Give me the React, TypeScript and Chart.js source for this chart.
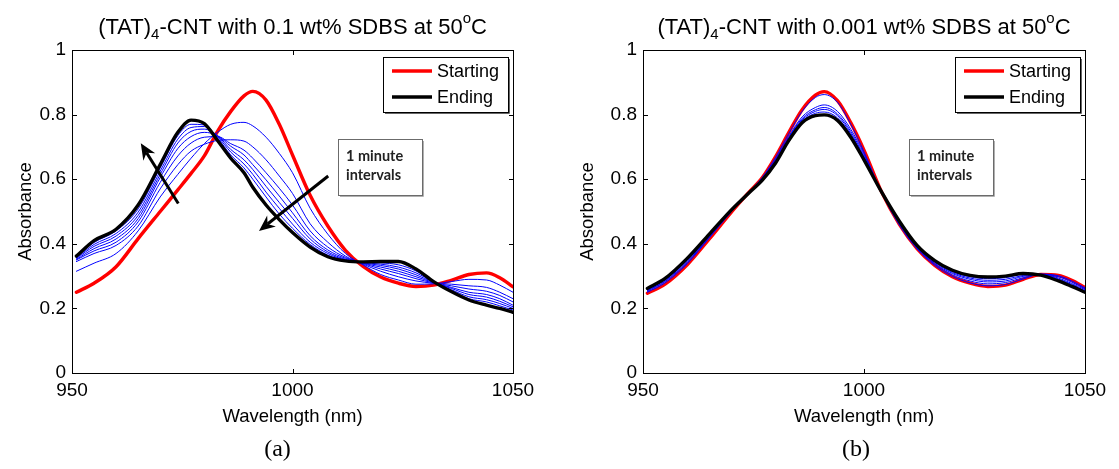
import React, { useEffect, useRef } from 'react';
import { Chart, registerables } from 'chart.js';

Chart.register(...registerables);

// ---------- data ----------
const WAVELENGTHS = [951, 955, 960, 965, 970, 974, 977, 980, 983, 986, 989, 991, 994, 997, 1000, 1004, 1008, 1012, 1016, 1020, 1024, 1028, 1032, 1036, 1040, 1044, 1047, 1050];

const X_TICKS = [950, 1000, 1050];
const X_TICK_LABELS = ['950', '1000', '1050'];
const Y_TICKS = [0, 0.2, 0.4, 0.6, 0.8, 1];
const Y_TICK_LABELS = ['0', '0.2', '0.4', '0.6', '0.8', '1'];

// Panel (a): 0.1 wt% SDBS
const A_START = [0.25, 0.278, 0.329, 0.416, 0.5, 0.567, 0.618, 0.672, 0.748, 0.81, 0.858, 0.872, 0.845, 0.77, 0.675, 0.55, 0.455, 0.38, 0.33, 0.297, 0.278, 0.268, 0.272, 0.287, 0.305, 0.31, 0.295, 0.267];
const A_END = [0.362, 0.41, 0.445, 0.52, 0.645, 0.745, 0.783, 0.772, 0.72, 0.665, 0.62, 0.575, 0.52, 0.475, 0.435, 0.39, 0.36, 0.347, 0.344, 0.345, 0.345, 0.322, 0.283, 0.252, 0.226, 0.21, 0.2, 0.188];
const A_MID1 = [0.315, 0.34, 0.37, 0.44, 0.545, 0.615, 0.665, 0.71, 0.745, 0.77, 0.776, 0.765, 0.73, 0.68, 0.62, 0.51, 0.43, 0.37, 0.335, 0.305, 0.288, 0.275, 0.276, 0.283, 0.29, 0.288, 0.272, 0.25];
const A_MID2 = [0.345, 0.37, 0.395, 0.455, 0.57, 0.645, 0.687, 0.708, 0.72, 0.722, 0.718, 0.7, 0.66, 0.61, 0.556, 0.462, 0.405, 0.362, 0.337, 0.315, 0.298, 0.285, 0.278, 0.275, 0.27, 0.265, 0.25, 0.23];
const A_MID3 = [0.35, 0.378, 0.405, 0.468, 0.59, 0.672, 0.712, 0.73, 0.732, 0.71, 0.69, 0.665, 0.62, 0.572, 0.52, 0.44, 0.39, 0.358, 0.339, 0.322, 0.308, 0.292, 0.279, 0.27, 0.26, 0.253, 0.24, 0.22];
const A_MID4 = [0.352, 0.385, 0.415, 0.478, 0.605, 0.695, 0.732, 0.745, 0.735, 0.702, 0.675, 0.645, 0.598, 0.548, 0.496, 0.425, 0.381, 0.355, 0.34, 0.328, 0.315, 0.298, 0.28, 0.265, 0.25, 0.243, 0.23, 0.21];
const A_MID5 = [0.355, 0.392, 0.424, 0.488, 0.615, 0.712, 0.748, 0.755, 0.735, 0.692, 0.66, 0.63, 0.578, 0.528, 0.479, 0.415, 0.375, 0.352, 0.341, 0.333, 0.322, 0.304, 0.281, 0.262, 0.243, 0.235, 0.222, 0.205];
const A_MID6 = [0.357, 0.398, 0.432, 0.498, 0.625, 0.724, 0.76, 0.763, 0.732, 0.684, 0.647, 0.615, 0.56, 0.51, 0.461, 0.405, 0.37, 0.35, 0.342, 0.337, 0.328, 0.31, 0.282, 0.258, 0.236, 0.227, 0.215, 0.2];
const A_MID7 = [0.36, 0.404, 0.44, 0.508, 0.635, 0.735, 0.77, 0.768, 0.728, 0.675, 0.635, 0.6, 0.545, 0.492, 0.448, 0.398, 0.365, 0.349, 0.343, 0.341, 0.335, 0.316, 0.283, 0.255, 0.23, 0.22, 0.208, 0.195];

// Panel (b): 0.001 wt% SDBS
const B_START = [0.247, 0.275, 0.335, 0.415, 0.498, 0.56, 0.605, 0.67, 0.745, 0.815, 0.86, 0.871, 0.843, 0.775, 0.69, 0.56, 0.46, 0.385, 0.333, 0.298, 0.278, 0.268, 0.272, 0.29, 0.305, 0.302, 0.287, 0.265];
const B_END = [0.262, 0.293, 0.355, 0.43, 0.505, 0.558, 0.597, 0.65, 0.72, 0.775, 0.797, 0.799, 0.782, 0.73, 0.66, 0.56, 0.47, 0.395, 0.348, 0.318, 0.302, 0.297, 0.3, 0.308, 0.303, 0.285, 0.268, 0.25];
const B_MID1 = [0.25, 0.279, 0.338, 0.418, 0.5, 0.56, 0.606, 0.668, 0.742, 0.81, 0.853, 0.862, 0.838, 0.77, 0.685, 0.558, 0.458, 0.384, 0.333, 0.299, 0.279, 0.27, 0.274, 0.291, 0.306, 0.301, 0.285, 0.264];
const B_MID2 = [0.253, 0.283, 0.342, 0.421, 0.5, 0.56, 0.603, 0.662, 0.733, 0.793, 0.822, 0.83, 0.81, 0.755, 0.678, 0.558, 0.462, 0.387, 0.337, 0.304, 0.285, 0.276, 0.28, 0.295, 0.306, 0.298, 0.281, 0.261];
const B_MID3 = [0.255, 0.285, 0.345, 0.423, 0.502, 0.559, 0.601, 0.659, 0.73, 0.788, 0.815, 0.822, 0.802, 0.748, 0.672, 0.559, 0.464, 0.389, 0.34, 0.308, 0.29, 0.282, 0.285, 0.299, 0.305, 0.294, 0.277, 0.258];
const B_MID4 = [0.257, 0.288, 0.348, 0.425, 0.503, 0.559, 0.6, 0.656, 0.727, 0.784, 0.81, 0.816, 0.797, 0.742, 0.668, 0.559, 0.466, 0.391, 0.343, 0.311, 0.294, 0.287, 0.29, 0.302, 0.305, 0.291, 0.274, 0.255];
const B_MID5 = [0.259, 0.29, 0.351, 0.427, 0.504, 0.558, 0.599, 0.653, 0.724, 0.78, 0.804, 0.808, 0.79, 0.737, 0.664, 0.56, 0.468, 0.393, 0.346, 0.314, 0.298, 0.292, 0.295, 0.305, 0.304, 0.288, 0.271, 0.252];

// Arrows in panel (a), in data coordinates: [x1, y1, x2(head), y2(head)]
const A_ARROWS = [
  [974.1, 0.525, 965.6, 0.711],
  [1008.1, 0.61, 992.4, 0.44],
];

const LEGEND_LABELS = ['Starting', 'Ending'];
const NOTE_LINES = ['1 minute', 'intervals'];

// ---------- layout ----------
type Panel = {
  canvasLeft: number;
  canvasWidth: number;
  padLeft: number;
  padRight: number;
  concentration: string;
  start: number[];
  end: number[];
  mids: number[][];
  arrows: number[][];
  label: string;
  labelShift: number;
  ylabelX: number;
};

const PANELS: Panel[] = [
  {
    canvasLeft: 0, canvasWidth: 560, padLeft: 32, padRight: 47,
    concentration: '0.1', start: A_START, end: A_END,
    mids: [A_MID1, A_MID2, A_MID3, A_MID4, A_MID5, A_MID6, A_MID7],
    arrows: A_ARROWS, label: '(a)', labelShift: -15, ylabelX: 26,
  },
  {
    canvasLeft: 560, canvasWidth: 559, padLeft: 43, padRight: 34,
    concentration: '0.001', start: B_START, end: B_END,
    mids: [B_MID1, B_MID2, B_MID3, B_MID4, B_MID5],
    arrows: [], label: '(b)', labelShift: -8, ylabelX: 28,
  },
];

const SANS = '"Liberation Sans", Arial, Helvetica, sans-serif';
const SERIF = '"Liberation Serif", "Times New Roman", serif';

function drawArrow(ctx: CanvasRenderingContext2D, x1: number, y1: number, x2: number, y2: number) {
  const ang = Math.atan2(y2 - y1, x2 - x1);
  const c = Math.cos(ang), s = Math.sin(ang);
  const L = 16, W = 7, notch = 11;
  ctx.strokeStyle = '#000';
  ctx.fillStyle = '#000';
  ctx.lineWidth = 3;
  ctx.lineCap = 'butt';
  ctx.beginPath();
  ctx.moveTo(x1, y1);
  ctx.lineTo(x2 - c * notch, y2 - s * notch);
  ctx.stroke();
  ctx.beginPath();
  ctx.moveTo(x2, y2);
  ctx.lineTo(x2 - c * L - s * W, y2 - s * L + c * W);
  ctx.lineTo(x2 - c * notch, y2 - s * notch);
  ctx.lineTo(x2 - c * L + s * W, y2 - s * L - c * W);
  ctx.closePath();
  ctx.fill();
}

function makeDecor(p: Panel) {
  return {
    id: 'decor',
    afterDraw(chart: any) {
      const ctx: CanvasRenderingContext2D = chart.ctx;
      const ca = chart.chartArea;
      const xs = chart.scales.x;
      const ys = chart.scales.y;
      const L = Math.round(ca.left), R = Math.round(ca.right), T = Math.round(ca.top), B = Math.round(ca.bottom);
      ctx.save();

      // arrows
      p.arrows.forEach((a) => {
        drawArrow(ctx, xs.getPixelForValue(a[0]), ys.getPixelForValue(a[1]), xs.getPixelForValue(a[2]), ys.getPixelForValue(a[3]));
      });

      // axes box
      ctx.strokeStyle = '#000';
      ctx.lineWidth = 1;
      ctx.strokeRect(L + 0.5, T + 0.5, R - L, B - T);
      // inward ticks
      ctx.beginPath();
      X_TICKS.forEach((v) => {
        const px = Math.round(xs.getPixelForValue(v)) + 0.5;
        ctx.moveTo(px, B); ctx.lineTo(px, B - 4);
        ctx.moveTo(px, T + 1); ctx.lineTo(px, T + 5);
      });
      Y_TICKS.forEach((v) => {
        const py = Math.round(ys.getPixelForValue(v)) + 0.5;
        ctx.moveTo(L + 1, py); ctx.lineTo(L + 5, py);
        ctx.moveTo(R, py); ctx.lineTo(R - 4, py);
      });
      ctx.stroke();

      // legend
      const lgW = 125, lgH = 55;
      const lgL = R - 5 - lgW, lgT = T + 7;
      ctx.fillStyle = '#fff';
      ctx.fillRect(lgL, lgT, lgW, lgH);
      ctx.strokeStyle = '#000';
      ctx.lineWidth = 1;
      ctx.strokeRect(lgL + 0.5, lgT + 0.5, lgW, lgH);
      ctx.strokeStyle = '#666';
      ctx.beginPath();
      ctx.moveTo(lgL + lgW + 1.5, lgT + 2); ctx.lineTo(lgL + lgW + 1.5, lgT + lgH + 1.5); ctx.lineTo(lgL + 2, lgT + lgH + 1.5);
      ctx.stroke();
      const lgColors = ['#ff0000', '#000000'];
      LEGEND_LABELS.forEach((txt, i) => {
        const y = lgT + 14 + i * 26;
        ctx.strokeStyle = lgColors[i];
        ctx.lineWidth = 3.5;
        ctx.beginPath();
        ctx.moveTo(lgL + 9, y); ctx.lineTo(lgL + 49, y);
        ctx.stroke();
        ctx.fillStyle = '#000';
        ctx.font = `18px ${SANS}`;
        ctx.textAlign = 'left';
        ctx.textBaseline = 'middle';
        ctx.fillText(txt, lgL + 54, y + 1);
      });

      // note box
      const nbL = L + 266, nbT = T + 89, nbW = 84, nbH = 56;
      ctx.fillStyle = '#fff';
      ctx.fillRect(nbL, nbT, nbW, nbH);
      ctx.strokeStyle = '#6b6b6b';
      ctx.lineWidth = 1;
      ctx.strokeRect(nbL + 0.5, nbT + 0.5, nbW, nbH);
      ctx.strokeStyle = '#b0b0b0';
      ctx.beginPath();
      ctx.moveTo(nbL + nbW + 1.5, nbT + 2); ctx.lineTo(nbL + nbW + 1.5, nbT + nbH + 1.5); ctx.lineTo(nbL + 2, nbT + nbH + 1.5);
      ctx.stroke();
      ctx.fillStyle = '#222';
      ctx.font = `bold 14.5px Lato, "Open Sans", sans-serif`;
      ctx.textAlign = 'left';
      ctx.textBaseline = 'middle';
      NOTE_LINES.forEach((t, i) => ctx.fillText(t, nbL + 8, nbT + 17 + i * 19));

      // title with sub/superscript
      const parts = [
        { t: '(TAT)', k: 'n' },
        { t: '4', k: 'sub' },
        { t: `-CNT with ${p.concentration} wt% SDBS at 50`, k: 'n' },
        { t: 'o', k: 'sup' },
        { t: 'C', k: 'n' },
      ];
      const fontFor = (k: string) => (k === 'n' ? `22px ${SANS}` : `15px ${SANS}`);
      let total = 0;
      parts.forEach((pt) => { ctx.font = fontFor(pt.k); total += ctx.measureText(pt.t).width; });
      let x = (L + R) / 2 - total / 2;
      const base = 34;
      ctx.fillStyle = '#000';
      ctx.textAlign = 'left';
      ctx.textBaseline = 'alphabetic';
      parts.forEach((pt) => {
        ctx.font = fontFor(pt.k);
        const dy = pt.k === 'sub' ? 5 : pt.k === 'sup' ? -11 : 0;
        ctx.fillText(pt.t, x, base + dy);
        x += ctx.measureText(pt.t).width;
      });

      // axis labels
      ctx.font = `18.5px ${SANS}`;
      ctx.textAlign = 'center';
      ctx.textBaseline = 'middle';
      ctx.fillText('Wavelength (nm)', (L + R) / 2, 417);
      ctx.save();
      ctx.translate(p.ylabelX, (T + B) / 2);
      ctx.rotate(-Math.PI / 2);
      ctx.fillText('Absorbance', 0, 0);
      ctx.restore();

      // panel label
      ctx.font = `24px ${SERIF}`;
      ctx.textAlign = 'center';
      ctx.textBaseline = 'middle';
      ctx.fillText(p.label, (L + R) / 2 + p.labelShift, 450);

      ctx.restore();
    },
  };
}

function makeChart(canvas: HTMLCanvasElement, p: Panel) {
  const pts = (ys: number[]) => WAVELENGTHS.map((x, i) => ({ x, y: ys[i] }));
  const datasets: any[] = [
    { label: 'Ending', data: pts(p.end), borderColor: '#000000', borderWidth: 3.4 },
    ...p.mids.map((m, i) => ({ label: `t${i + 1}`, data: pts(m), borderColor: '#0000ff', borderWidth: 1 })),
    { label: 'Starting', data: pts(p.start), borderColor: '#ff0000', borderWidth: 3.4 },
  ];
  return new Chart(canvas, {
    type: 'line',
    data: { datasets },
    options: {
      responsive: false,
      animation: false,
      devicePixelRatio: 1,
      elements: {
        point: { radius: 0, hoverRadius: 0 },
        line: { cubicInterpolationMode: 'monotone', borderCapStyle: 'round', borderJoinStyle: 'round', fill: false },
      },
      layout: { padding: { left: p.padLeft, right: p.padRight, top: 50, bottom: 66 } },
      plugins: { legend: { display: false }, tooltip: { enabled: false }, title: { display: false } },
      scales: {
        x: {
          type: 'linear',
          min: 950,
          max: 1050,
          afterBuildTicks: (s: any) => { s.ticks = X_TICKS.map((v) => ({ value: v })); },
          afterFit: (s: any) => { s.height = 30; },
          grid: { display: false, drawTicks: false },
          border: { display: false },
          ticks: {
            color: '#000',
            font: { family: SANS, size: 19 },
            padding: 6,
            maxRotation: 0,
            autoSkip: false,
            callback: (v: any) => X_TICK_LABELS[X_TICKS.indexOf(Number(v))] ?? '',
          },
        },
        y: {
          type: 'linear',
          min: 0,
          max: 1,
          afterBuildTicks: (s: any) => { s.ticks = Y_TICKS.map((v) => ({ value: v })); },
          afterFit: (s: any) => { s.width = 40; },
          grid: { display: false, drawTicks: false },
          border: { display: false },
          ticks: {
            color: '#000',
            font: { family: SANS, size: 19 },
            padding: 6,
            autoSkip: false,
            callback: (v: any) => {
              const i = Y_TICKS.findIndex((t) => Math.abs(t - Number(v)) < 1e-9);
              return i >= 0 ? Y_TICK_LABELS[i] : '';
            },
          },
        },
      },
    } as any,
    plugins: [makeDecor(p) as any],
  });
}

export default function App() {
  const refA = useRef<HTMLCanvasElement>(null);
  const refB = useRef<HTMLCanvasElement>(null);
  useEffect(() => {
    const canvases = [refA.current!, refB.current!];
    const charts = PANELS.map((p, i) => makeChart(canvases[i], p));
    return () => charts.forEach((c) => c.destroy());
  }, []);
  return (
    <div style={{ position: 'fixed', left: 0, top: 0, width: 1119, height: 469, background: '#fff', overflow: 'hidden' }}>
      {PANELS.map((p, i) => (
        <canvas
          key={i}
          ref={i === 0 ? refA : refB}
          width={p.canvasWidth}
          height={469}
          style={{ position: 'absolute', left: p.canvasLeft, top: 0, width: p.canvasWidth, height: 469 }}
        />
      ))}
    </div>
  );
}
